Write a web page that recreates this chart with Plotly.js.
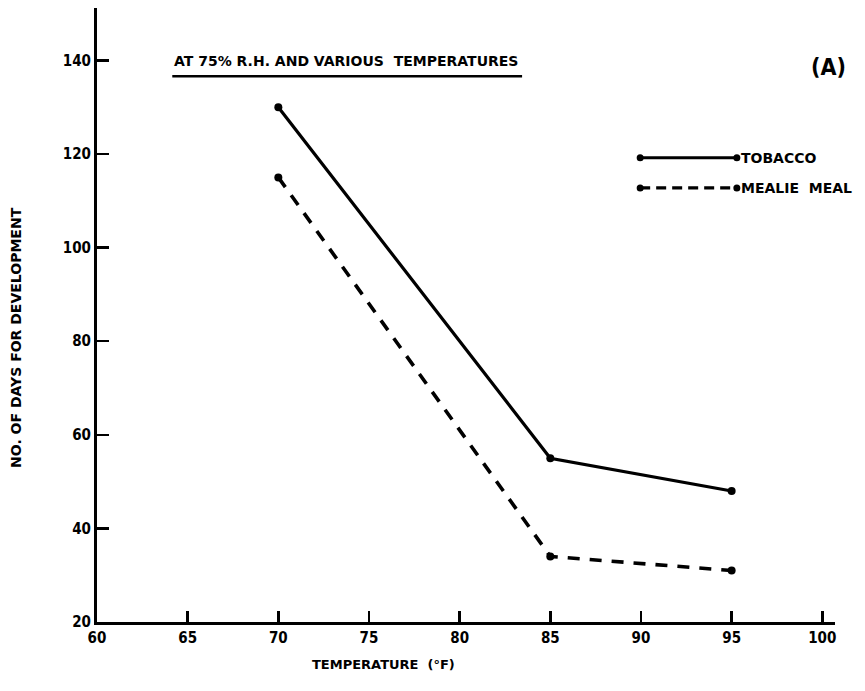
<!DOCTYPE html>
<html>
<head>
<meta charset="utf-8">
<script src="https://cdn.plot.ly/plotly-3.0.1.min.js"></script>
<style>html,body{margin:0;padding:0;background:#fff;}#chart{width:865px;height:691px;}</style>
</head>
<body>
<div id="chart"></div>
<script>
const temperatures = [70, 85, 95];
const tobaccoDays = [130, 55, 48];
const mealieMealDays = [115, 34, 31];
const xTickVals = [60, 65, 70, 75, 80, 85, 90, 95, 100];
const xTickText = ['60', '65', '70', '75', '80', '85', '90', '95', '100'];
const yTickVals = [20, 40, 60, 80, 100, 120, 140];
const yTickText = ['20', '40', '60', '80', '100', '120', '140'];

const FONT = 'DejaVu Sans Condensed, Liberation Sans Narrow, sans-serif';
const WFONT = 'DejaVu Sans, Liberation Sans, sans-serif';

const traces = [
  {
    x: temperatures, y: tobaccoDays, name: 'TOBACCO', mode: 'lines+markers',
    line: {color: '#000', width: 3.2},
    marker: {color: '#000', size: 8, symbol: 'circle'}
  },
  {
    x: temperatures, y: mealieMealDays, name: 'MEALIE MEAL', mode: 'lines+markers',
    line: {color: '#000', width: 3.6, dash: '12px,10px'},
    marker: {color: '#000', size: 8, symbol: 'circle'}
  }
];

function dot(xp, yp) {
  return {type: 'circle', xref: 'paper', yref: 'paper', xsizemode: 'pixel', ysizemode: 'pixel',
    xanchor: xp, yanchor: yp, x0: -3.5, x1: 3.5, y0: -3.5, y1: 3.5,
    fillcolor: '#000', line: {color: '#000', width: 0}};
}

const layout = {
  width: 865, height: 691,
  margin: {l: 97, r: 30, t: 8, b: 69},
  paper_bgcolor: '#fff', plot_bgcolor: '#fff',
  showlegend: false,
  font: {family: FONT, color: '#000', size: 15, weight: 700},
  xaxis: {
    range: [60, 100.7], tickvals: xTickVals, ticktext: xTickText,
    showgrid: false, zeroline: false, showline: true, linecolor: '#000', linewidth: 3,
    ticks: 'inside', ticklen: 11, tickwidth: 2.5, tickcolor: '#000',
    tickfont: {family: FONT, size: 15, weight: 700}
  },
  yaxis: {
    range: [20, 151.2], tickvals: yTickVals, ticktext: yTickText,
    showgrid: false, zeroline: false, showline: true, linecolor: '#000', linewidth: 3,
    ticks: 'inside', ticklen: 12, tickwidth: 2.5, tickcolor: '#000',
    tickfont: {family: FONT, size: 15, weight: 700}
  },
  shapes: [
    {type: 'line', xref: 'paper', yref: 'paper', x0: 0.102, x1: 0.576, y0: 0.889, y1: 0.889, line: {color: '#000', width: 2.5}},
    {type: 'line', xref: 'paper', yref: 'paper', x0: 0.736, x1: 0.867, y0: 0.756, y1: 0.756, line: {color: '#000', width: 3}},
    {type: 'line', xref: 'paper', yref: 'paper', x0: 0.736, x1: 0.867, y0: 0.707, y1: 0.707, line: {color: '#000', width: 3.4, dash: '10px,6px'}},
    dot(0.736, 0.756), dot(0.867, 0.756), dot(0.736, 0.707), dot(0.867, 0.707)
  ],
  annotations: [
    {xref: 'paper', yref: 'paper', x: 0.102, y: 0.913, xanchor: 'left', yanchor: 'middle', text: 'AT 75% R.H. AND VARIOUS  TEMPERATURES', showarrow: false, font: {family: WFONT, size: 14, weight: 700}},
    {xref: 'paper', yref: 'paper', x: 1.018, y: 0.904, xanchor: 'right', yanchor: 'middle', text: '(A)', showarrow: false, font: {family: FONT, size: 23, weight: 700}},
    {xref: 'paper', yref: 'paper', x: 0.870, y: 0.756, xanchor: 'left', yanchor: 'middle', text: 'TOBACCO', showarrow: false, font: {family: WFONT, size: 14, weight: 700}},
    {xref: 'paper', yref: 'paper', x: 0.870, y: 0.707, xanchor: 'left', yanchor: 'middle', text: 'MEALIE  MEAL', showarrow: false, font: {family: WFONT, size: 14, weight: 700}},
    {xref: 'paper', yref: 'paper', x: 0.388, y: -0.07, xanchor: 'center', yanchor: 'middle', text: 'TEMPERATURE  (°F)', showarrow: false, font: {family: WFONT, size: 13, weight: 700}},
    {xref: 'paper', yref: 'paper', x: -0.11, y: 0.464, xanchor: 'center', yanchor: 'middle', textangle: -90, text: 'NO. OF DAYS FOR DEVELOPMENT', showarrow: false, font: {family: WFONT, size: 14, weight: 700}}
  ]
};

Plotly.newPlot('chart', traces, layout, {displayModeBar: false, staticPlot: true});
</script>
</body>
</html>
